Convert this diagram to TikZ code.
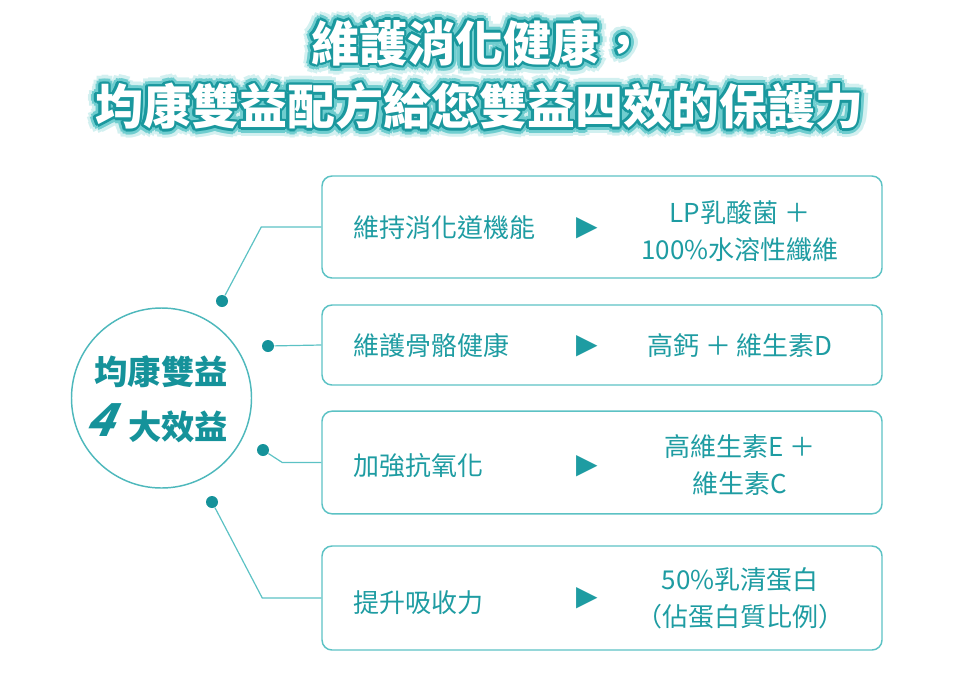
\documentclass[tikz,border=0pt]{standalone}
\usepackage{fontspec}
\setmainfont{Noto Sans CJK TC}
\newfontfamily\symfont{DejaVu Sans}
\usepackage{tikz}
\usetikzlibrary{positioning}
\definecolor{tealdark}{HTML}{15929A}
\definecolor{tealtext}{HTML}{1E9CA2}
\definecolor{tealline}{HTML}{5CC2C4}
\definecolor{glowa}{HTML}{1A989E}
\definecolor{glowb}{HTML}{6FCDCF}
\definecolor{glowc}{HTML}{D2F0F0}
\tikzset{every picture/.style={line width=0.75pt}}
\tikzset{
  titletext/.style={inner sep=0pt, font=\bfseries\fontsize{36}{40}\selectfont},
  benefitbox/.style={draw=tealline, line width=1.1pt, rounded corners=7.5pt, minimum width=420pt},
  benefittext/.style={text=tealtext, inner sep=0.75pt, font=\fontsize{19.5}{28}\selectfont},
  pointer/.style={text=tealtext, inner sep=0pt, font=\symfont\fontsize{21}{21}\selectfont},
  dot/.style={circle, fill=tealdark, inner sep=0pt, minimum size=9pt},
  link/.style={draw=tealline, line width=0.9pt},
  coretext/.style={text=tealdark, inner sep=0pt, font=\bfseries\fontsize{25}{25}\selectfont}
}

\begin{document}
\begin{tikzpicture}[x=0.75pt,y=0.75pt,yscale=-1,xscale=1]
\useasboundingbox (0,0) rectangle (960,686);
% title with glow
\foreach \r/\c in {9/glowc,5.5/glowb,2.5/glowa}{
  \foreach \a in {0,30,...,330}{
    \draw (479,43) node [titletext, text=\c, shift={(\a:\r)}] {維護消化健康，};
    \draw (479,106) node [titletext, text=\c, shift={(\a:\r)}] {均康雙益配方給您雙益四效的保護力};
  }
}
\draw (479,43) node [titletext, text=white] (title1) {維護消化健康，};
\draw (479,106) node [titletext, text=white] (title2) {均康雙益配方給您雙益四效的保護力};

% center circle
\draw (161.5,398) node [circle, draw=tealline!80!tealdark, line width=1.1pt, minimum size=135pt] (core) {};
\draw (161,372) node [coretext] (coretop) {均康雙益};
\draw (178,427) node [coretext] (corebot) {大效益};
\draw (106,420) node [coretext, font=\bfseries\fontsize{34}{34}\selectfont, xslant=0.45] (four) {4};

% boxes
\draw (602,227) node [benefitbox, minimum height=76.5pt] (b1) {};
\draw (602,345) node [benefitbox, minimum height=60pt] (b2) {};
\draw (602,462.5) node [benefitbox, minimum height=77pt] (b3) {};
\draw (602,598) node [benefitbox, minimum height=78pt] (b4) {};

% dots
\draw (222,301) node [dot] (d1) {};
\draw (268,346) node [dot] (d2) {};
\draw (263,450) node [dot] (d3) {};
\draw (212,502) node [dot] (d4) {};

% connectors
\draw [link] (b1.west) -- ++(-60,0) -- (d1);
\draw [link] (b2.west) -- (d2);
\draw [link] (b3.west) -- ++(-39,0) -- (d3);
\draw [link] (b4.west) -- ++(-59,0) -- (d4);

% left texts
\draw (352,228) node [benefittext, anchor=west] (l1) {維持消化道機能};
\draw (352,346) node [benefittext, anchor=west] (l2) {維護骨骼健康};
\draw (352,466) node [benefittext, anchor=west] (l3) {加強抗氧化};
\draw (352,603) node [benefittext, anchor=west] (l4) {提升吸收力};

% arrows
\draw (587,228) node [pointer] (p1) {▶};
\draw (587,346) node [pointer] (p2) {▶};
\draw (587,466) node [pointer] (p3) {▶};
\draw (587,598) node [pointer] (p4) {▶};

% right texts
\draw (740,231) node [benefittext, align=center] (r1) {LP乳酸菌 ＋\\100\%水溶性纖維};
\draw (740,346) node [benefittext] (r2) {高鈣 ＋ 維生素D};
\draw (740,465) node [benefittext, align=center] (r3) {高維生素E ＋\\維生素C};
\draw (740,598) node [benefittext, align=center] (r4) {50\%乳清蛋白\\（佔蛋白質比例）};
\end{tikzpicture}
\end{document}
